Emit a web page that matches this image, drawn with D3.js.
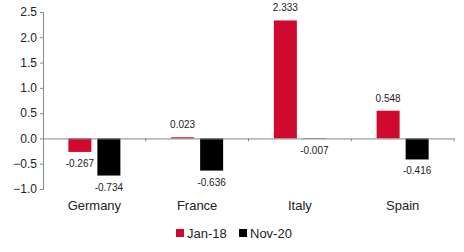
<!DOCTYPE html>
<html>
<head>
<meta charset="utf-8">
<script src="https://cdn.jsdelivr.net/npm/d3@7"></script>
<style>
  body { margin: 0; background: #fff; }
  svg text { font-family: "Liberation Sans", Arial, sans-serif; fill: #222; }
  .axis path, .axis line { stroke: #888; }
</style>
</head>
<body>
<svg id="chart" width="464" height="252"></svg>
<script>
// Chart data
var countries = ["Germany", "France", "Italy", "Spain"];
var seriesNames = ["Jan-18", "Nov-20"];
var jan18 = [-0.267, 0.023, 2.333, 0.548];
var nov20 = [-0.734, -0.636, -0.007, -0.416];
var yTicks = [-1.0, -0.5, 0.0, 0.5, 1.0, 1.5, 2.0, 2.5];
var colors = ["#D00A2E", "#000000"];

var svg = d3.select("#chart");

// Plot area
var margin = {top: 12, left: 43, right: 10, bottom: 63};
var plotRight = 454;
var plotBottom = 252 - margin.bottom;

var xScale = d3.scaleBand().domain(countries).range([margin.left, plotRight]).padding(0);
var xInner = d3.scaleBand().domain(seriesNames)
    .range([0, xScale.bandwidth()])
    .paddingInner(0.207)
    .paddingOuter(0.874);
var yScale = d3.scaleLinear().domain([-1.0, 2.5]).range([plotBottom, margin.top]);

var rows = [];
countries.forEach(function(c, i) {
    rows.push({country: c, series: seriesNames[0], value: jan18[i], color: colors[0]});
    rows.push({country: c, series: seriesNames[1], value: nov20[i], color: colors[1]});
});

// Bars
svg.append("g").selectAll("rect")
    .data(rows)
    .enter()
    .append("rect")
    .attr("x", function(d) { return xScale(d.country) + xInner(d.series); })
    .attr("width", xInner.bandwidth())
    .attr("y", function(d) { return yScale(Math.max(0, d.value)); })
    .attr("height", function(d) { return Math.abs(yScale(d.value) - yScale(0)); })
    .attr("fill", function(d) { return d.color; });

// Y axis
var yAxisG = svg.append("g")
    .attr("class", "axis")
    .attr("transform", "translate(" + margin.left + ",0)")
    .call(d3.axisLeft(yScale).tickValues(yTicks).tickSize(3).tickSizeOuter(3).tickPadding(3)
        .tickFormat(d3.format(".1f")));
yAxisG.selectAll("text").style("font-size", "12px").attr("fill", "#222");
yAxisG.select(".domain").attr("stroke", "#888");

// Zero line with category ticks
var xAxisG = svg.append("g")
    .attr("class", "axis")
    .attr("transform", "translate(0," + yScale(0) + ")")
    .call(d3.axisBottom(xScale).tickSize(0).tickSizeOuter(0).tickFormat(""));
xAxisG.selectAll(".tick").remove();
var bounds = countries.map(function(c) { return xScale(c) + xScale.bandwidth(); });
xAxisG.selectAll(".sep")
    .data(bounds)
    .enter()
    .append("line")
    .attr("x1", function(d) { return d; })
    .attr("x2", function(d) { return d; })
    .attr("y1", 0)
    .attr("y2", 3)
    .attr("stroke", "#888");

// Category labels below plot
svg.append("g").selectAll("text")
    .data(countries)
    .enter()
    .append("text")
    .attr("x", function(d) { return xScale(d) + xScale.bandwidth() / 2; })
    .attr("y", plotBottom + 21)
    .attr("text-anchor", "middle")
    .style("font-size", "13px")
    .text(function(d) { return d; });

// Value labels
svg.append("g").selectAll("text")
    .data(rows)
    .enter()
    .append("text")
    .attr("x", function(d) { return xScale(d.country) + xInner(d.series) + xInner.bandwidth() / 2; })
    .attr("y", function(d) {
        return d.value >= 0 ? yScale(d.value) - 9 : yScale(d.value) + 15;
    })
    .attr("text-anchor", "middle")
    .style("font-size", "10px")
    .text(function(d) { return d.value.toFixed(3); });

// Legend
var legendX = [176, 239];
var legend = svg.append("g").selectAll("g")
    .data(seriesNames)
    .enter()
    .append("g")
    .attr("transform", function(d, i) { return "translate(" + legendX[i] + ",233)"; });
legend.append("rect")
    .attr("x", 0).attr("y", -4)
    .attr("width", 8).attr("height", 8)
    .attr("fill", function(d, i) { return colors[i]; });
legend.append("text")
    .attr("x", 11).attr("y", 5)
    .style("font-size", "13px")
    .text(function(d) { return d; });
</script>
</body>
</html>
